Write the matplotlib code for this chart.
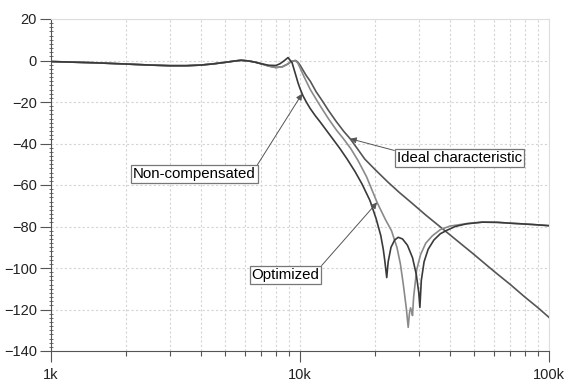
import numpy as np
import matplotlib
matplotlib.use("Agg")
import matplotlib.pyplot as plt
from matplotlib.ticker import FixedLocator, MultipleLocator, FuncFormatter, NullFormatter

plt.rcParams['font.family'] = ['Liberation Sans', 'DejaVu Sans']

# ---- data (frequency in Hz, magnitude in dB) ----
pass_f = [1000, 1500, 2000, 2500, 3000, 3500, 4000, 4500, 5000, 5500, 5800, 6200, 6600, 7000]
pass_db = [-0.5, -1.1, -1.7, -2.2, -2.5, -2.5, -2.2, -1.6, -0.9, -0.2, 0.1, -0.2, -0.8, -1.6]

noncomp_f = [7500, 8000, 8300, 8600, 8950, 9290, 9450, 9640, 9820, 10000, 10280, 10600, 10970, 11500,
             12030, 13200, 14480, 15460, 16630, 17740, 19100, 20200, 21100, 21600, 21900, 22300,
             22600, 23200, 24000, 24800, 25800, 27000, 28300, 29300, 30000, 30300, 30700, 31500,
             32700, 34500, 36600, 38800, 42000, 46700, 54000, 62000, 69700, 85000, 100000]
noncomp_db = [-2.3, -2.4, -1.6, -0.3, 1.4, -1.0, -4.0, -7.5, -10.8, -13.5, -17.0, -20.0, -23.0, -26.5,
              -29.5, -36.0, -42.5, -47.5, -53.5, -59.5, -67.5, -76.1, -84.3, -91.0, -96.4, -104.6,
              -97.0, -90.0, -86.5, -85.2, -86.0, -89.0, -95.0, -103.0, -112.0, -119.0, -106.0, -97.0,
              -91.0, -86.5, -83.5, -81.9, -80.0, -78.7, -77.9, -78.0, -78.4, -79.0, -79.6]

optim_f = [7500, 8000, 8500, 8900, 9200, 9550, 9800, 10000, 10400, 11000, 12000, 13000, 14000,
           14900, 16000, 17100, 18500, 20400, 22000, 23300, 24500, 25300, 26000, 26700, 27200,
           27500, 27800, 28100, 28300, 28600, 29400, 30500, 32000, 34000, 36600, 40000, 46700,
           54000, 62000, 69700, 85000, 100000]
optim_db = [-2.7, -3.4, -3.0, -1.8, -0.6, 0.0, -1.2, -3.5, -8.0, -14.0, -21.5, -28.0, -33.5,
            -37.5, -42.5, -48.2, -56.0, -68.4, -76.5, -82.0, -90.0, -98.0, -108.0, -119.0, -128.6,
            -122.0, -119.2, -121.0, -122.9, -114.0, -101.0, -93.5, -88.0, -84.5, -81.5, -79.8, -78.6,
            -77.9, -78.0, -78.4, -79.0, -79.6]

ideal_f = [7500, 8000, 8500, 8900, 9200, 9600, 9800, 10000, 10300, 10600, 11000, 11600, 12300,
           13000, 14000, 15000, 15900, 17000, 18200, 20000, 22500, 25000, 28000, 32000, 36000,
           40000, 50000, 60000, 70000, 80000, 90000, 100000]
ideal_db = [-2.7, -3.4, -3.0, -1.8, -0.6, 0.0, -0.8, -2.2, -4.8, -7.3, -10.0, -15.0, -19.5,
            -24.0, -29.5, -34.2, -37.7, -42.5, -47.5, -52.5, -58.5, -63.5, -68.5, -74.5, -79.5,
            -84.0, -93.5, -101.5, -108.0, -114.0, -119.0, -123.8]

x_ticks = [1000, 10000, 100000]
x_ticklabels = ['1k', '10k', '100k']
y_ticks = [20, 0, -20, -40, -60, -80, -100, -120, -140]

labels = ['Non-compensated', 'Ideal characteristic', 'Optimized']
arrow_freqs = [10200, 15900, 20400]

# ---- build curves ----
f_nc = np.array(pass_f + noncomp_f, float); d_nc = np.array(pass_db + noncomp_db)
f_op = np.array(pass_f + optim_f, float); d_op = np.array(pass_db + optim_db)
f_id = np.array(pass_f + ideal_f, float); d_id = np.array(pass_db + ideal_db)

fig = plt.figure(figsize=(5.71, 3.81), dpi=100)
ax = fig.add_axes([51/571, 30/381, 498/571, 332/381])

ax.plot(f_id, d_id, color='#555555', lw=1.2, zorder=3)
ax.plot(f_op, d_op, color='#8a8a8a', lw=1.2, zorder=4)
ax.plot(f_nc, d_nc, color='#3a3a3a', lw=1.2, zorder=5)

ax.set_xscale('log')
ax.set_xlim(1000, 100000)
ax.set_ylim(-140, 20)

ax.xaxis.set_major_locator(FixedLocator(x_ticks))
ax.xaxis.set_major_formatter(FuncFormatter(lambda v, p: x_ticklabels[x_ticks.index(int(round(v)))] if int(round(v)) in x_ticks else ''))
ax.xaxis.set_minor_locator(matplotlib.ticker.LogLocator(base=10, subs=np.arange(2, 10)))
ax.xaxis.set_minor_formatter(NullFormatter())
ax.yaxis.set_major_locator(FixedLocator(y_ticks))
ax.yaxis.set_minor_locator(MultipleLocator(2))

ax.grid(True, which='major', color='#d4d4d4', linestyle=(0, (2, 2)), lw=0.8)
ax.grid(True, which='minor', axis='x', color='#d4d4d4', linestyle=(0, (2, 2)), lw=0.8)
ax.set_axisbelow(True)

for s in ['top', 'right']:
    ax.spines[s].set_color('#dddddd')
for s in ['left', 'bottom']:
    ax.spines[s].set_color('#555555')

ax.tick_params(axis='both', which='major', direction='out', length=8, width=0.8,
               color='#555555', labelsize=10.5, labelcolor='#222222', pad=2)
ax.tick_params(axis='y', which='minor', direction='inout', length=3, width=0.6, color='#555555')
ax.tick_params(axis='x', which='minor', direction='out', length=3.5, width=0.8, color='#555555')
ax.tick_params(axis='x', which='major', pad=4)

curves = [(f_nc, d_nc), (f_id, d_id), (f_op, d_op)]
text_pos = [(0.288, 0.532), (0.820, 0.581), (0.471, 0.229)]
relpos = [(1, 1), (0, 1), (1, 1)]
for lab, af, (cf, cd), tp, rp in zip(labels, arrow_freqs, curves, text_pos, relpos):
    ay = np.interp(np.log10(af), np.log10(cf), cd)
    ax.annotate(lab, xy=(af, ay), xycoords='data', xytext=tp, textcoords='axes fraction',
                ha='center', va='center', fontsize=10.8, color='black', zorder=10,
                bbox=dict(boxstyle='square,pad=0.13', fc='white', ec='#777777', lw=0.9),
                arrowprops=dict(arrowstyle='-|>', color='#555555', lw=0.7, mutation_scale=9,
                                relpos=rp, shrinkA=0, shrinkB=0))

fig.savefig('out.png', dpi=100)
